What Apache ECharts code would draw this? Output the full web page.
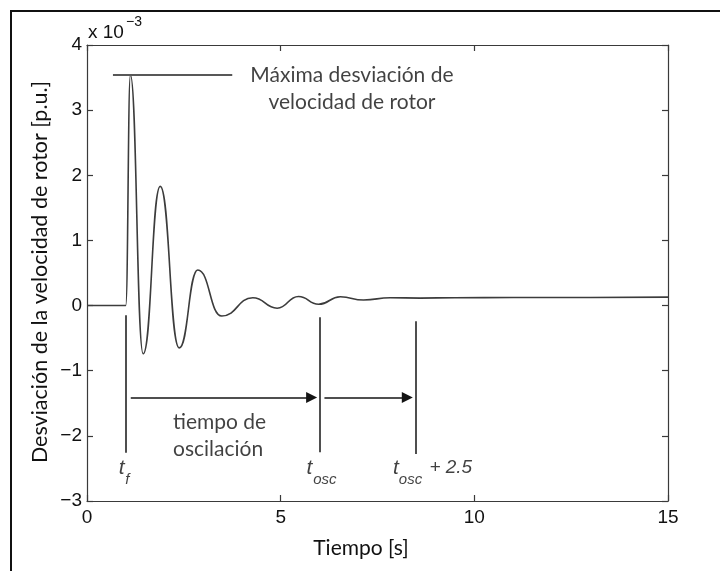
<!DOCTYPE html>
<html>
<head>
<meta charset="utf-8">
<script src="https://cdn.jsdelivr.net/npm/echarts@6/dist/echarts.min.js"></script>
<style>
  html, body { margin: 0; padding: 0; background: #fff; }
  #chart { width: 720px; height: 571px; }
</style>
</head>
<body>
<div id="chart"></div>
<script>
// Rotor speed deviation after a fault (values in units of 1e-3 p.u.)
const timeS    = [0, 0.5, 1.0, 1.12, 1.45, 1.89, 2.38, 2.86, 3.48, 4.28, 4.91, 5.46, 5.98, 6.54, 7.14, 7.83, 8.6, 9.5, 11, 13, 15];
const speedDev = [0, 0, 0, 3.54, -0.74, 1.83, -0.65, 0.545, -0.16, 0.12, -0.04, 0.14, 0.02, 0.135, 0.085, 0.12, 0.115, 0.12, 0.125, 0.125, 0.13];

// Axis ticks
const xTickValues = [0, 5, 10, 15];
const yTickValues = [-3, -2, -1, 0, 1, 2, 3, 4];

// Reference instants: fault time, end of oscillation, end of oscillation + 2.5 s
const markerTimes  = [0.99, 6.02, 8.49];
const markerTop    = [-0.15, -0.18, -0.24];
const markerBottom = [-2.26, -2.25, -2.28];

// Horizontal mark at the maximum deviation
const peakMarkFrom = 0.67;
const peakMarkTo   = 3.75;
const peakValue    = 3.54;

// Arrows spanning the oscillation time and the extra 2.5 s
const arrowFrom = [1.13, 6.13];
const arrowTo   = [5.80, 8.27];
const arrowLevel = -1.41;

// Text notes
const noteTexts = ['Máxima desviación de\nvelocidad de rotor', 'tiempo de\noscilación'];
const noteX = [6.84, 2.22];
const noteY = [3.33, -2.0];
const noteAlign = ['center', 'left'];

// Instant labels: main letter, subscript, trailing text
const instantMain = ['t', 't', 't'];
const instantMainX = [0.82, 5.67, 7.90];
const instantSub = ['f', 'osc', 'osc'];
const instantSubX = [0.99, 5.84, 8.05];
const instantTail = ['', '', '+ 2.5'];
const instantTailX = [0, 0, 8.84];
const instantMainY = -2.49;
const instantSubY = -2.67;

const numFont = '"Liberation Sans", Arial, sans-serif';
const noteFont = 'Lato, "Open Sans", sans-serif';
const ink = '#111111';

const chart = echarts.init(document.getElementById('chart'), null, { renderer: 'canvas' });

const tickFmt = v => String(v).replace('-', '\u2212');

function valueAxis(min, max, interval, position, showLabels) {
  return {
    type: 'value', min, max, interval, position,
    axisLine: { show: true, onZero: false, lineStyle: { color: '#3a3a3a', width: 1.2 } },
    axisTick: { show: true, inside: true, length: 6, lineStyle: { color: '#3a3a3a', width: 1.2 } },
    axisLabel: {
      show: showLabels, formatter: tickFmt, color: ink, fontFamily: numFont, fontSize: 19,
      margin: position === 'bottom' ? 7 : 5, showMinLabel: true, showMaxLabel: true, hideOverlap: false
    },
    splitLine: { show: false }
  };
}

const curve = timeS.map((t, i) => [t, speedDev[i]]);

const markerSegments = markerTimes.map((t, i) => ({ coords: [[t, markerTop[i]], [t, markerBottom[i]]] }));
const arrowSegments = arrowFrom.map((a, i) => ({ coords: [[a, arrowLevel], [arrowTo[i], arrowLevel]] }));

const noteItems = noteTexts.map((txt, i) => ({
  value: [noteX[i], noteY[i]],
  label: { formatter: txt, align: noteAlign[i] }
}));

const mainItems = instantMain.map((txt, i) => ({ value: [instantMainX[i], instantMainY], label: { formatter: txt } }));
const subItems = instantSub.map((txt, i) => ({ value: [instantSubX[i], instantSubY], label: { formatter: txt } }));
const tailItems = instantTail
  .map((txt, i) => ({ value: [instantTailX[i], instantMainY], label: { formatter: txt } }))
  .filter(d => d.label.formatter);

function textSeries(data, style) {
  return {
    type: 'scatter', symbol: 'circle', symbolSize: 1, silent: true, z: 5,
    itemStyle: { color: 'transparent' },
    label: Object.assign({ show: true, position: 'inside', align: 'left', verticalAlign: 'middle', color: ink }, style),
    data
  };
}

chart.setOption({
  animation: false,
  backgroundColor: '#fff',
  grid: { left: 87, top: 45, width: 581, height: 456, containLabel: false },
  xAxis: [
    valueAxis(xTickValues[0], xTickValues[xTickValues.length - 1], 5, 'bottom', true),
    valueAxis(xTickValues[0], xTickValues[xTickValues.length - 1], 5, 'top', false)
  ],
  yAxis: [
    valueAxis(yTickValues[0], yTickValues[yTickValues.length - 1], 1, 'left', true),
    valueAxis(yTickValues[0], yTickValues[yTickValues.length - 1], 1, 'right', false)
  ],
  graphic: [
    { type: 'rect', shape: { x: 11, y: 11, width: 800, height: 700 }, style: { fill: 'none', stroke: '#111', lineWidth: 2 }, silent: true },
    { type: 'text', x: 88, y: 33, style: { text: 'x 10', fontFamily: numFont, fontSize: 19, fill: ink, verticalAlign: 'middle' } },
    { type: 'text', x: 126, y: 22, style: { text: '\u22123', fontFamily: numFont, fontSize: 14, fill: ink, verticalAlign: 'middle' } },
    { type: 'text', x: 361, y: 548, style: { text: 'Tiempo [s]', fontFamily: noteFont, fontSize: 21, fill: ink, align: 'center', verticalAlign: 'middle' } },
    { type: 'text', x: 40, y: 272, rotation: Math.PI / 2, style: { text: 'Desviación de la velocidad de rotor [p.u.]', fontFamily: noteFont, fontSize: 21.5, fill: ink, align: 'center', verticalAlign: 'middle' } }
  ],
  series: [
    {
      name: 'Desviación de velocidad',
      type: 'line', data: curve, showSymbol: false, symbol: 'none',
      smooth: 0.5, smoothMonotone: 'x',
      lineStyle: { color: '#3c3c3c', width: 1.6 }, z: 3
    },
    {
      type: 'lines', coordinateSystem: 'cartesian2d', silent: true, z: 4,
      symbol: 'none',
      lineStyle: { color: '#585858', width: 2, opacity: 1 },
      data: [{ coords: [[peakMarkFrom, peakValue], [peakMarkTo, peakValue]] }]
    },
    {
      type: 'lines', coordinateSystem: 'cartesian2d', silent: true, z: 4,
      symbol: 'none',
      lineStyle: { color: '#141414', width: 1.5, opacity: 1 },
      data: markerSegments
    },
    {
      type: 'lines', coordinateSystem: 'cartesian2d', silent: true, z: 4,
      symbol: ['none', 'triangle'], symbolSize: [8, 11],
      lineStyle: { color: '#141414', width: 1.5, opacity: 1 },
      itemStyle: { color: '#141414' },
      data: arrowSegments
    },
    textSeries(noteItems, { fontFamily: noteFont, fontSize: 21, lineHeight: 27 }),
    textSeries(mainItems, { fontFamily: numFont, fontStyle: 'italic', fontSize: 21 }),
    textSeries(subItems, { fontFamily: numFont, fontStyle: 'italic', fontSize: 15 }),
    textSeries(tailItems, { fontFamily: numFont, fontStyle: 'italic', fontSize: 19 })
  ]
});
</script>
</body>
</html>
